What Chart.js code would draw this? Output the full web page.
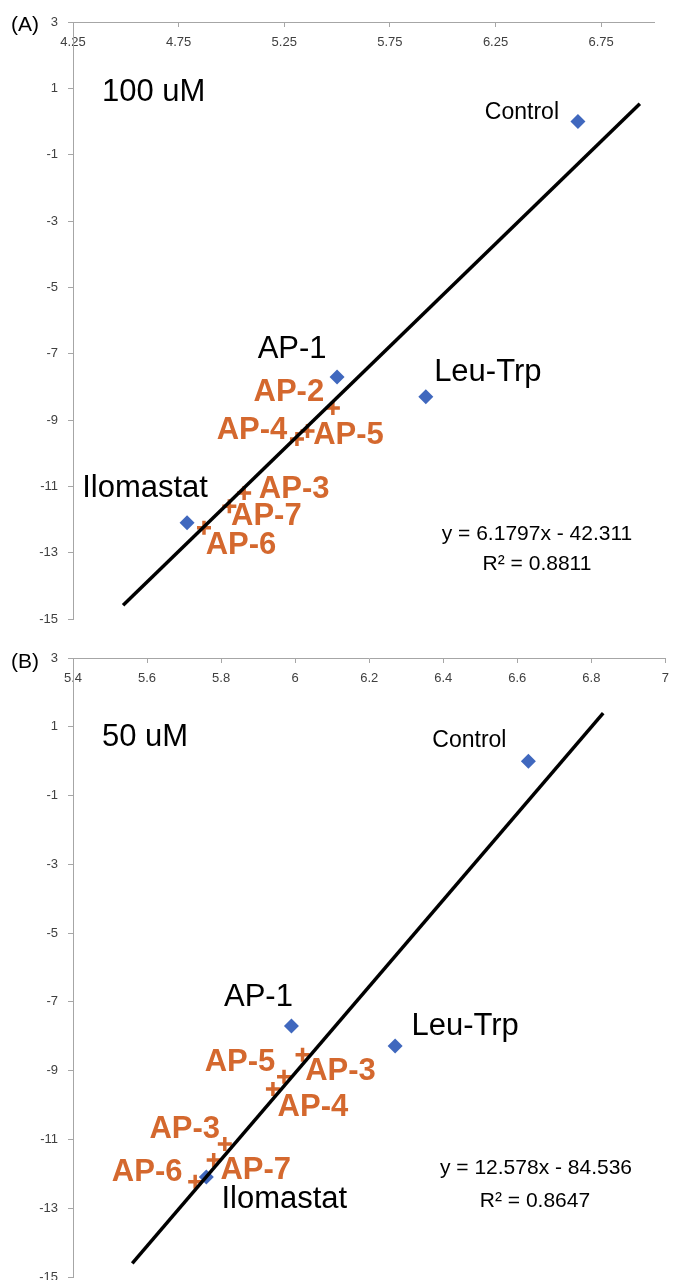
<!DOCTYPE html>
<html>
<head>
<meta charset="utf-8">
<script src="https://cdn.jsdelivr.net/npm/chart.js@4.4.0/dist/chart.umd.min.js"></script>
<style>
    body { margin: 0; background: #fff; overflow: hidden; }
    .panel { position: relative; width: 678px; }
    canvas { display: block; }
</style>
</head>
<body>
<div class="panel" style="height:640px"><canvas id="chart-a" width="678" height="640"></canvas></div>
<div class="panel" style="height:660px"><canvas id="chart-b" width="678" height="660"></canvas></div>

<script>
// Panel A (100 uM)
const blueNamesA = ['Control', 'AP-1', 'Leu-Trp', 'Ilomastat'];
const blueXA = [6.64, 5.50, 5.92, 4.79];
const blueYA = [0.0, -7.7, -8.3, -12.1];
const apNamesA = ['AP-2', 'AP-4', 'AP-5', 'AP-3', 'AP-7', 'AP-6'];
const apXA = [5.48, 5.31, 5.36, 5.06, 4.99, 4.87];
const apYA = [-8.64, -9.57, -9.33, -11.2, -11.6, -12.25];
const slopeA = 6.1797;
const interceptA = -42.311;
const lineXA = [4.487, 6.933];
const xTicksA = [4.25, 4.75, 5.25, 5.75, 6.25, 6.75];
const xTickLabelsA = ['4.25', '4.75', '5.25', '5.75', '6.25', '6.75'];

// Panel B (50 uM)
const blueNamesB = ['Control', 'AP-1', 'Leu-Trp', 'Ilomastat'];
const blueXB = [6.63, 5.99, 6.27, 5.76];
const blueYB = [0.0, -7.7, -8.28, -12.09];
const apNamesB = ['AP-3', 'AP-5', 'AP-4', 'AP-3', 'AP-7', 'AP-6'];
const apXB = [6.02, 5.97, 5.94, 5.81, 5.78, 5.73];
const apYB = [-8.54, -9.18, -9.53, -11.13, -11.6, -12.23];
const slopeB = 12.578;
const interceptB = -84.536;
const lineXB = [5.56, 6.832];
const xTicksB = [5.4, 5.6, 5.8, 6, 6.2, 6.4, 6.6, 6.8, 7];
const xTickLabelsB = ['5.4', '5.6', '5.8', '6', '6.2', '6.4', '6.6', '6.8', '7'];

const yTicks = [3, 1, -1, -3, -5, -7, -9, -11, -13, -15];

// label offsets (px from the point to the text centre)
const blueOffsetsA = [[-56, -9], [-45, -27], [62, -24], [-42, -34]];
const apOffsetsA = [[-44, -16], [-45, -8], [41, 5], [50, -4], [37, 10], [37, 18]];
const blueOffsetsB = [[-59, -21], [-33, -29], [70, -19], [78, 23]];
const apOffsetsB = [[38, 17], [-44, -14], [40, 19], [-40, -14], [42, 10], [-48, -9]];

const BLUE = '#4068BE';
const ORANGE = '#D4682E';
const AXIS = '#A6A6A6';
const FONT = '"Liberation Sans", Arial, sans-serif';

function zipPoints(xs, ys) {
    return xs.map((x, i) => ({ x: x, y: ys[i] }));
}

function trendPoints(xs, slope, intercept) {
    return xs.map(x => ({ x: x, y: slope * x + intercept }));
}

const labelPlugin = {
    id: 'labels',
    afterDatasetsDraw(chart, args, opts) {
        const ctx = chart.ctx;
        ctx.save();
        ctx.textBaseline = 'middle';
        ctx.textAlign = 'center';

        // point labels, anchored on the drawn elements
        opts.pointLabels.forEach(group => {
            const meta = chart.getDatasetMeta(group.dataset);
            ctx.fillStyle = group.color;
            group.names.forEach((name, i) => {
                const el = meta.data[i];
                const off = group.offsets[i];
                ctx.font = (name === 'Control') ? '23px ' + FONT : group.font;
                ctx.fillText(name, el.x + off[0], el.y + off[1]);
            });
        });

        // free text
        opts.texts.forEach(t => {
            ctx.font = t.font;
            ctx.fillStyle = '#000';
            ctx.textAlign = t.align;
            ctx.fillText(t.text, t.x, t.y);
        });
        ctx.restore();
    }
};

function makeChart(id, cfg) {
    const ctx = document.getElementById(id).getContext('2d');
    return new Chart(ctx, {
        type: 'scatter',
        data: {
            datasets: [
                {
                    label: 'trend',
                    data: trendPoints(cfg.lineX, cfg.slope, cfg.intercept),
                    showLine: true,
                    borderColor: '#000',
                    borderWidth: 3.5,
                    pointRadius: 0
                },
                {
                    label: 'references',
                    data: zipPoints(cfg.blueX, cfg.blueY),
                    pointStyle: 'rectRot',
                    pointRadius: 7.5,
                    backgroundColor: BLUE,
                    borderColor: BLUE,
                    borderWidth: 0
                },
                {
                    label: 'peptides',
                    data: zipPoints(cfg.apX, cfg.apY),
                    pointStyle: 'cross',
                    pointRadius: 7,
                    borderColor: ORANGE,
                    borderWidth: 3.5
                }
            ]
        },
        options: {
            responsive: false,
            animation: false,
            layout: { padding: cfg.padding },
            plugins: {
                legend: { display: false },
                tooltip: { enabled: false },
                labels: {
                    pointLabels: [
                        { dataset: 1, names: cfg.blueNames, offsets: cfg.blueOffsets,
                          font: '31px ' + FONT, color: '#000' },
                        { dataset: 2, names: cfg.apNames, offsets: cfg.apOffsets,
                          font: 'bold 31px ' + FONT, color: ORANGE }
                    ],
                    texts: cfg.texts
                }
            },
            scales: {
                x: {
                    type: 'linear',
                    position: { y: 3 },
                    min: cfg.xMin,
                    max: cfg.xMax,
                    afterBuildTicks: s => { s.ticks = cfg.xTicks.map(v => ({ value: v })); },
                    ticks: {
                        padding: 9,
                        color: '#404040',
                        font: { family: FONT, size: 13 },
                        maxRotation: 0,
                        callback: (v, i) => cfg.xTickLabels[i]
                    },
                    grid: { drawOnChartArea: false, tickLength: 4, color: AXIS },
                    border: { color: AXIS, width: 1 }
                },
                y: {
                    type: 'linear',
                    min: -15,
                    max: 3,
                    afterBuildTicks: s => { s.ticks = yTicks.map(v => ({ value: v })); },
                    afterFit: s => { s.width = 73; },
                    ticks: {
                        padding: 10,
                        color: '#404040',
                        font: { family: FONT, size: 13 }
                    },
                    grid: { drawOnChartArea: false, tickLength: 5, color: AXIS },
                    border: { color: AXIS, width: 1 }
                }
            }
        },
        plugins: [labelPlugin]
    });
}

document.addEventListener('DOMContentLoaded', () => {
    makeChart('chart-a', {
        blueNames: blueNamesA, blueX: blueXA, blueY: blueYA, blueOffsets: blueOffsetsA,
        apNames: apNamesA, apX: apXA, apY: apYA, apOffsets: apOffsetsA,
        slope: slopeA, intercept: interceptA, lineX: lineXA,
        xMin: 4.25, xMax: 7.0, xTicks: xTicksA, xTickLabels: xTickLabelsA,
        padding: { left: 0, top: 22, right: 24, bottom: 21 },
        texts: [
            { text: '(A)', x: 11, y: 25, align: 'left', font: '21px ' + FONT },
            { text: '100 uM', x: 102, y: 92, align: 'left', font: '31px ' + FONT },
            { text: 'y = 6.1797x - 42.311', x: 537, y: 534, align: 'center', font: '21px ' + FONT },
            { text: 'R\u00B2 = 0.8811', x: 537, y: 564, align: 'center', font: '21px ' + FONT }
        ]
    });

    makeChart('chart-b', {
        blueNames: blueNamesB, blueX: blueXB, blueY: blueYB, blueOffsets: blueOffsetsB,
        apNames: apNamesB, apX: apXB, apY: apYB, apOffsets: apOffsetsB,
        slope: slopeB, intercept: interceptB, lineX: lineXB,
        xMin: 5.4, xMax: 7.0, xTicks: xTicksB, xTickLabels: xTickLabelsB,
        padding: { left: 0, top: 18, right: 5, bottom: 23 },
        texts: [
            { text: '(B)', x: 11, y: 22, align: 'left', font: '21px ' + FONT },
            { text: '50 uM', x: 102, y: 97, align: 'left', font: '31px ' + FONT },
            { text: 'y = 12.578x - 84.536', x: 536, y: 528, align: 'center', font: '21px ' + FONT },
            { text: 'R\u00B2 = 0.8647', x: 535, y: 561, align: 'center', font: '21px ' + FONT }
        ]
    });
});
</script>
</body>
</html>
